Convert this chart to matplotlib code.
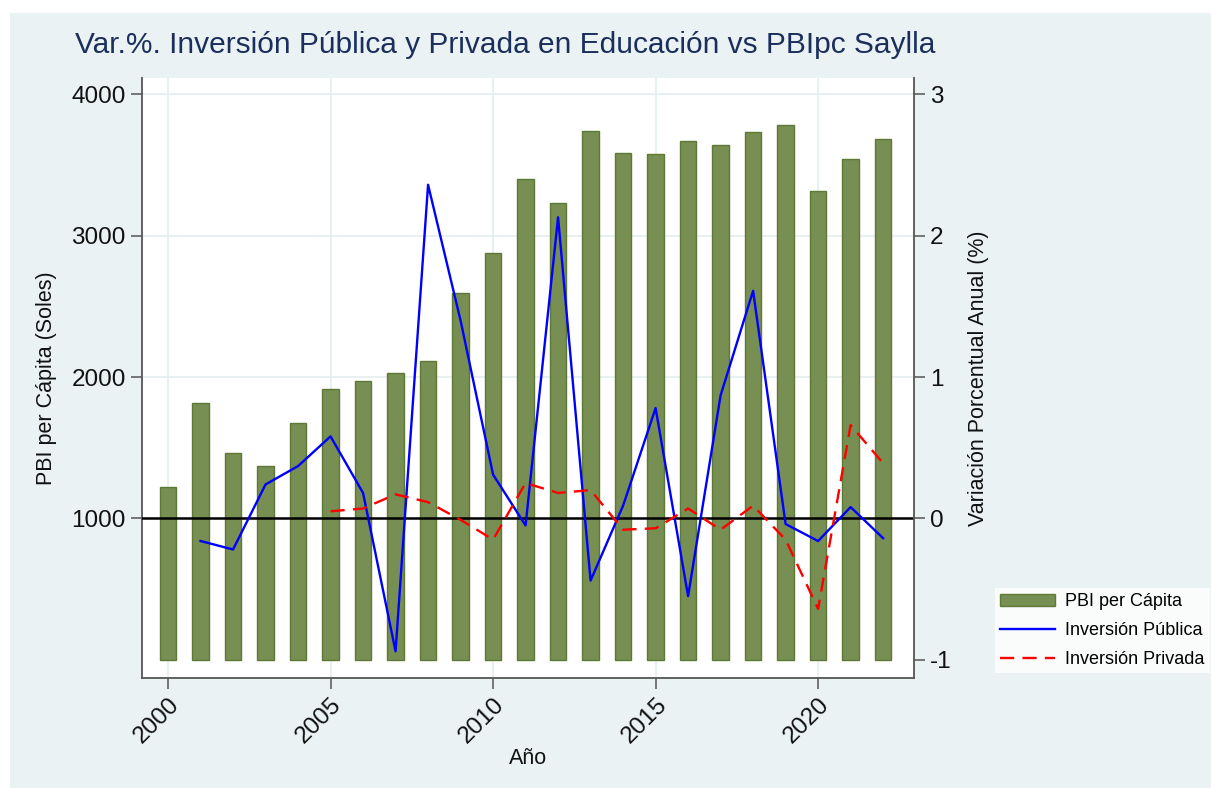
import numpy as np
import matplotlib
matplotlib.use("Agg")
import matplotlib.pyplot as plt
from matplotlib.patches import Rectangle
from matplotlib.lines import Line2D
from matplotlib.patches import Patch

plt.rcParams['font.family'] = ['Liberation Sans', 'DejaVu Sans']
plt.rcParams['axes.unicode_minus'] = False

years = list(range(2000, 2023))
pbi_pc = [1223, 1813, 1460, 1370, 1676, 1914, 1971, 2030, 2112, 2595, 2878, 3404,
          3232, 3739, 3583, 3576, 3666, 3642, 3732, 3784, 3317, 3539, 3687]

years_pub = list(range(2001, 2023))
inv_publica = [-0.16, -0.22, 0.24, 0.37, 0.58, 0.18, -0.94, 2.36, 1.40, 0.31, -0.05,
               2.13, -0.44, 0.09, 0.78, -0.55, 0.87, 1.61, -0.04, -0.16, 0.08, -0.14]

years_priv = list(range(2005, 2023))
inv_privada = [0.05, 0.07, 0.17, 0.115, -0.01, -0.15, 0.25, 0.18, 0.20, -0.08, -0.07,
               0.07, -0.08, 0.09, -0.15, -0.64, 0.66, 0.39]

bg = '#eaf2f3'
bar_fill = '#778f52'
bar_edge = '#5c7a36'
grid_c = '#e4eef0'
spine_c = '#555555'

fig = plt.figure(figsize=(12.11, 7.88), dpi=100, facecolor='white')
fig.patches.append(Rectangle((10 / 1211, 0), 1, 1 - 13 / 788, transform=fig.transFigure,
                             facecolor=bg, edgecolor='none', zorder=-10))

ax = fig.add_axes([141.7 / 1211, 110 / 788, (914 - 141.7) / 1211, 600 / 788])
ax.set_facecolor('white')
ax.bar(years, pbi_pc, width=0.51, color=bar_fill, edgecolor=bar_edge, linewidth=1.0, zorder=2)
ax.set_xlim(1999.19, 2022.95)
ax.set_ylim(-129, 4115)
ax.set_yticks([1000, 2000, 3000, 4000])
ax.set_xticks([2000, 2005, 2010, 2015, 2020])
ax.grid(True, color=grid_c, linewidth=1.2, zorder=0)
ax.axhline(1000, color='black', linewidth=1.8, zorder=3)
for s in ['top', 'right']:
    ax.spines[s].set_visible(False)
for s in ['left', 'bottom']:
    ax.spines[s].set_color(spine_c)
    ax.spines[s].set_linewidth(1.3)
ax.tick_params(axis='both', length=8, width=1.1, color=spine_c, labelsize=17.5, labelcolor='#111111')
plt.setp(ax.get_xticklabels(), rotation=45, ha='right', rotation_mode='anchor')
ax.set_ylabel('PBI per Cápita (Soles)', fontsize=15.5, color='#111111', labelpad=10)
ax.set_xlabel('Año', fontsize=15.5, color='#111111', labelpad=0)

ax2 = ax.twinx()
ax2.plot(years_pub, inv_publica, color='#0000ff', linewidth=1.7, zorder=4)
ax2.plot(years_priv, inv_privada, color='#ff0000', linewidth=1.7, dashes=(6, 3.5), zorder=4)
ax2.set_ylim(-1.129, 3.115)
ax2.set_yticks([-1, 0, 1, 2, 3])
for s in ['top', 'left', 'bottom']:
    ax2.spines[s].set_visible(False)
ax2.spines['right'].set_color(spine_c)
ax2.spines['right'].set_linewidth(1.3)
ax2.tick_params(axis='y', length=8, width=1.1, color=spine_c, labelsize=17.5, labelcolor='#111111')
ax2.set_ylabel('Variación Porcentual Anual (%)', fontsize=15.5, color='#111111', labelpad=12)

fig.text(75 / 1211, 1 - 45 / 788, 'Var.%. Inversión Pública y Privada en Educación vs PBIpc Saylla',
         fontsize=21.5, color='#1c2f5c', ha='left', va='center')

handles = [Patch(facecolor=bar_fill, edgecolor=bar_edge),
           Line2D([], [], color='#0000ff', linewidth=1.7),
           Line2D([], [], color='#ff0000', linewidth=1.7, dashes=(6, 3.5))]
labels = ['PBI per Cápita', 'Inversión Pública', 'Inversión Privada']
leg = fig.legend(handles, labels, loc='upper left', bbox_to_anchor=(995 / 1211, 1 - 588 / 788),
                 frameon=True, fancybox=False, fontsize=13, handlelength=3.0,
                 borderpad=0.3, labelspacing=0.65, handletextpad=0.6, borderaxespad=0)
leg.get_frame().set_facecolor('white')
leg.get_frame().set_edgecolor('none')

fig.savefig('out.png', dpi=100, facecolor=fig.get_facecolor())
